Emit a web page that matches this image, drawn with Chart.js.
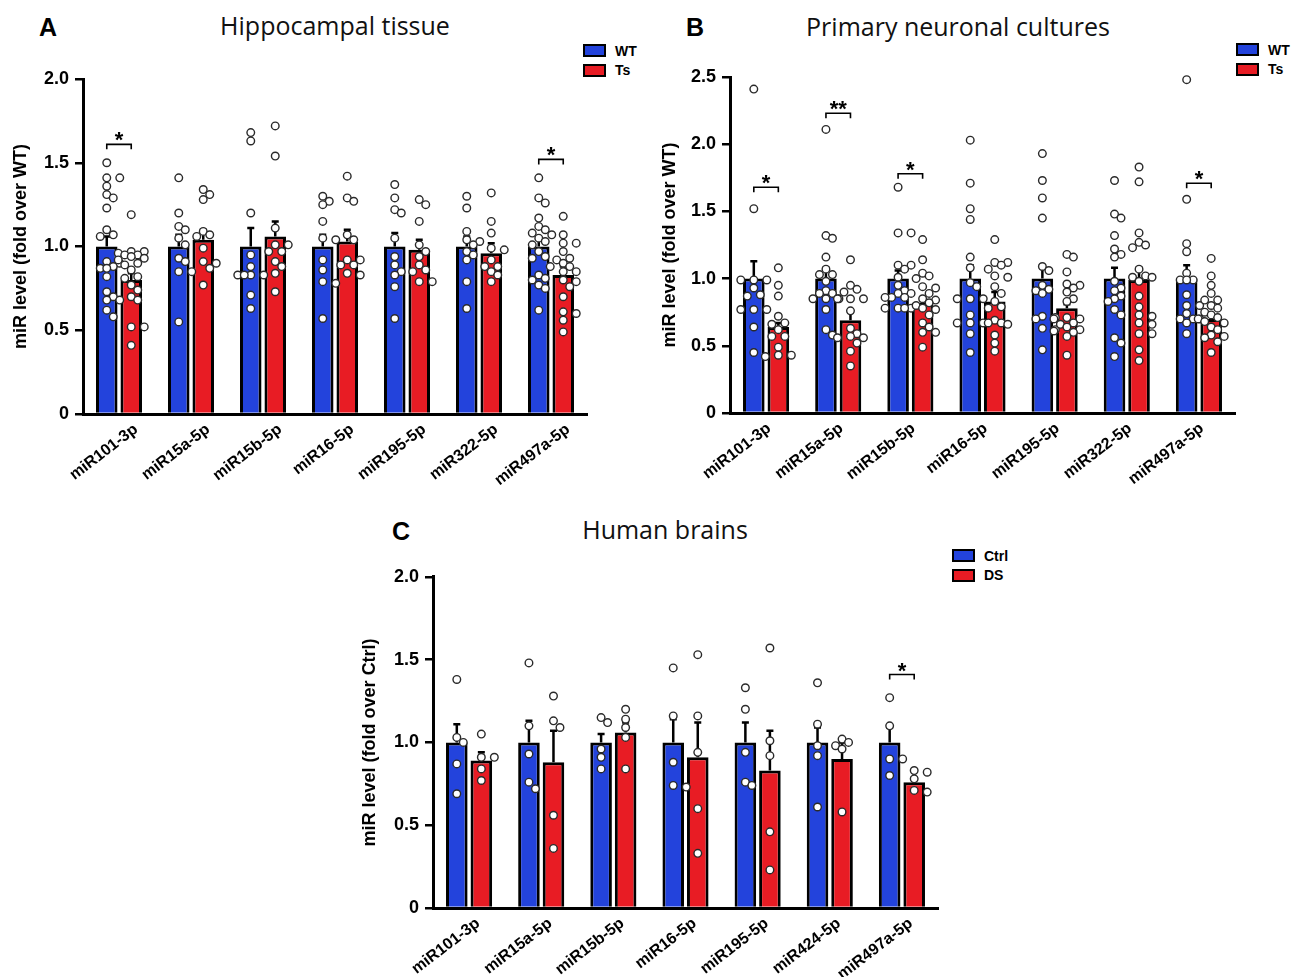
<!DOCTYPE html>
<html>
<head>
<meta charset="utf-8">
<script src="https://cdn.jsdelivr.net/npm/chart.js@4.4.0/dist/chart.umd.min.js"></script>
<style>
  body { margin: 0; background: #fff; width: 1298px; height: 977px; position: relative; overflow: hidden; font-family: 'Liberation Sans', Arial, sans-serif; }
  .panel-letter { position: absolute; font-weight: bold; font-size: 25px; line-height: 1; }
  .panel-title { position: absolute; font-family: 'Open Sans', sans-serif; font-size: 25px; line-height: 1; transform: translateX(-50%); white-space: nowrap; color: #111; }
  .legend { position: absolute; font-size: 14px; font-weight: bold; }
  .legend-row { display: flex; align-items: center; height: 19.5px; }
  .legend-box { width: 19px; height: 9px; border: 2px solid #000; margin-right: 9px; }
  .chart-box { position: absolute; }
</style>
</head>
<body>

<div class="panel-letter" style="left:39px; top:15px;">A</div>
<div class="panel-title" style="left:335px; top:13px;">Hippocampal tissue</div>
<div class="legend" style="left:583px; top:41px;">
  <div class="legend-row"><div class="legend-box" style="background:#2343dc"></div>WT</div>
  <div class="legend-row"><div class="legend-box" style="background:#e81c24"></div>Ts</div>
</div>
<div class="chart-box" style="left:0px; top:60px;"><canvas id="chart-a" width="610" height="440"></canvas></div>

<div class="panel-letter" style="left:686px; top:15px;">B</div>
<div class="panel-title" style="left:958px; top:14px;">Primary neuronal cultures</div>
<div class="legend" style="left:1236px; top:40px;">
  <div class="legend-row"><div class="legend-box" style="background:#2343dc"></div>WT</div>
  <div class="legend-row"><div class="legend-box" style="background:#e81c24"></div>Ts</div>
</div>
<div class="chart-box" style="left:640px; top:60px;"><canvas id="chart-b" width="620" height="440"></canvas></div>

<div class="panel-letter" style="left:392px; top:519px;">C</div>
<div class="panel-title" style="left:665px; top:517px;">Human brains</div>
<div class="legend" style="left:952px; top:546px;">
  <div class="legend-row"><div class="legend-box" style="background:#2343dc"></div>Ctrl</div>
  <div class="legend-row"><div class="legend-box" style="background:#e81c24"></div>DS</div>
</div>
<div class="chart-box" style="left:340px; top:560px;"><canvas id="chart-c" width="620" height="417"></canvas></div>

<script>
// ---- data ----
const mouseLabels = ['miR101-3p', 'miR15a-5p', 'miR15b-5p', 'miR16-5p', 'miR195-5p', 'miR322-5p', 'miR497a-5p'];
const humanLabels = ['miR101-3p', 'miR15a-5p', 'miR15b-5p', 'miR16-5p', 'miR195-5p', 'miR424-5p', 'miR497a-5p'];

// A: hippocampal tissue
const hippoWtMean = [1.0, 1.0, 1.0, 1.0, 1.0, 1.0, 1.0];
const hippoTsMean = [0.80, 1.04, 1.06, 1.03, 0.98, 0.96, 0.83];
const hippoWtSem = [0.06, 0.07, 0.11, 0.07, 0.08, 0.06, 0.05];
const hippoTsSem = [0.04, 0.06, 0.09, 0.07, 0.06, 0.06, 0.05];
const hippoWtPoints = [
  [1.50, 1.41, 1.41, 1.36, 1.31, 1.29, 1.23, 1.10, 1.07, 1.06, 0.91, 0.90, 0.88, 0.87, 0.87, 0.82, 0.73, 0.70, 0.68, 0.68, 0.62, 0.58],
  [1.41, 1.20, 1.12, 1.10, 1.05, 1.01, 0.93, 0.91, 0.85, 0.85, 0.55],
  [1.68, 1.63, 1.20, 0.95, 0.88, 0.83, 0.83, 0.83, 0.83, 0.71, 0.63],
  [1.30, 1.27, 1.25, 1.15, 1.05, 1.04, 0.92, 0.86, 0.79, 0.78, 0.57],
  [1.37, 1.29, 1.22, 1.20, 1.05, 0.94, 0.89, 0.85, 0.83, 0.76, 0.57],
  [1.30, 1.23, 1.09, 1.04, 1.03, 1.01, 0.97, 0.95, 0.92, 0.79, 0.63],
  [1.41, 1.29, 1.26, 1.17, 1.12, 1.10, 1.08, 1.07, 1.05, 1.03, 1.01, 0.97, 0.94, 0.93, 0.83, 0.81, 0.80, 0.77, 0.75, 0.62]
];
const hippoTsPoints = [
  [1.19, 0.97, 0.97, 0.96, 0.95, 0.95, 0.94, 0.93, 0.92, 0.90, 0.89, 0.86, 0.82, 0.81, 0.77, 0.74, 0.70, 0.68, 0.52, 0.52, 0.41],
  [1.34, 1.31, 1.28, 1.09, 1.07, 1.06, 0.99, 0.91, 0.90, 0.87, 0.77],
  [1.72, 1.54, 1.11, 1.01, 1.01, 0.97, 0.97, 0.91, 0.88, 0.84, 0.73],
  [1.42, 1.29, 1.27, 1.07, 1.04, 0.92, 0.92, 0.89, 0.89, 0.84, 0.83],
  [1.28, 1.25, 1.15, 1.01, 0.97, 0.94, 0.89, 0.86, 0.85, 0.79, 0.79],
  [1.32, 1.15, 1.08, 0.99, 0.98, 0.92, 0.88, 0.88, 0.85, 0.83, 0.79],
  [1.18, 1.07, 1.02, 1.02, 0.97, 0.93, 0.92, 0.90, 0.88, 0.88, 0.85, 0.85, 0.80, 0.79, 0.76, 0.70, 0.61, 0.60, 0.56, 0.49]
];
const hippoSig = [{ group: 0, y: 1.61, text: '*' }, { group: 6, y: 1.52, text: '*' }];

// B: primary neuronal cultures
const cultWtMean = [1.0, 1.0, 1.0, 1.0, 1.0, 1.0, 1.0];
const cultTsMean = [0.64, 0.69, 0.82, 0.83, 0.78, 0.99, 0.70];
const cultWtSem = [0.13, 0.08, 0.06, 0.10, 0.10, 0.08, 0.10];
const cultTsSem = [0.03, 0.06, 0.03, 0.07, 0.03, 0.09, 0.03];
const cultWtPoints = [
  [2.41, 1.52, 0.99, 0.99, 0.99, 0.93, 0.88, 0.87, 0.77, 0.77, 0.77, 0.64, 0.45],
  [2.11, 1.32, 1.30, 1.16, 1.07, 1.03, 1.03, 0.98, 0.91, 0.89, 0.89, 0.85, 0.85, 0.85, 0.77, 0.62, 0.58],
  [1.68, 1.34, 1.34, 1.10, 1.10, 1.07, 1.01, 0.95, 0.91, 0.89, 0.89, 0.86, 0.86, 0.86, 0.78, 0.78, 0.78, 0.78],
  [2.03, 1.71, 1.52, 1.44, 1.16, 1.08, 0.97, 0.94, 0.85, 0.85, 0.85, 0.73, 0.67, 0.67, 0.67, 0.59, 0.45],
  [1.93, 1.73, 1.60, 1.45, 1.09, 1.06, 0.95, 0.92, 0.91, 0.89, 0.72, 0.71, 0.70, 0.63, 0.62, 0.47],
  [1.73, 1.48, 1.45, 1.32, 1.22, 1.18, 1.16, 0.98, 0.93, 0.91, 0.87, 0.85, 0.83, 0.77, 0.73, 0.56, 0.52, 0.42],
  [2.48, 1.59, 1.26, 1.20, 1.04, 0.99, 0.99, 0.99, 0.88, 0.80, 0.80, 0.74, 0.70, 0.70, 0.70, 0.67, 0.59]
];
const cultTsPoints = [
  [1.08, 0.95, 0.87, 0.72, 0.67, 0.66, 0.62, 0.57, 0.57, 0.49, 0.43, 0.43, 0.42],
  [1.14, 0.95, 0.92, 0.90, 0.85, 0.85, 0.85, 0.76, 0.63, 0.59, 0.57, 0.56, 0.56, 0.52, 0.46, 0.35],
  [1.29, 1.14, 1.04, 1.02, 1.00, 0.94, 0.93, 0.89, 0.85, 0.84, 0.82, 0.80, 0.78, 0.77, 0.73, 0.67, 0.64, 0.60, 0.60, 0.49],
  [1.29, 1.12, 1.12, 1.10, 1.07, 1.02, 1.01, 0.94, 0.89, 0.83, 0.79, 0.78, 0.69, 0.67, 0.67, 0.66, 0.58, 0.52, 0.46],
  [1.18, 1.16, 1.05, 0.96, 0.95, 0.93, 0.90, 0.85, 0.83, 0.71, 0.70, 0.70, 0.67, 0.66, 0.64, 0.62, 0.61, 0.60, 0.57, 0.43],
  [1.83, 1.72, 1.34, 1.27, 1.25, 1.23, 1.07, 1.02, 1.01, 1.01, 0.98, 0.87, 0.79, 0.73, 0.72, 0.67, 0.66, 0.59, 0.59, 0.47, 0.39],
  [1.15, 1.02, 0.95, 0.89, 0.84, 0.84, 0.80, 0.78, 0.75, 0.73, 0.71, 0.70, 0.68, 0.67, 0.64, 0.62, 0.58, 0.57, 0.56, 0.53, 0.45]
];
const cultSig = [
  { group: 0, y: 1.68, text: '*' }, { group: 1, y: 2.23, text: '**' },
  { group: 2, y: 1.78, text: '*' }, { group: 6, y: 1.71, text: '*' }
];

// C: human brains
const humanCtrlMean = [1.0, 1.0, 1.0, 1.0, 1.0, 1.0, 1.0];
const humanDsMean = [0.89, 0.88, 1.06, 0.91, 0.83, 0.90, 0.76];
const humanCtrlSem = [0.11, 0.13, 0.05, 0.14, 0.12, 0.09, 0.09];
const humanDsSem = [0.05, 0.19, 0.06, 0.21, 0.24, 0.10, 0.03];
const humanCtrlPoints = [
  [1.38, 1.03, 1.00, 0.87, 0.69],
  [1.48, 1.10, 0.93, 0.76, 0.72],
  [1.15, 1.12, 0.96, 0.91, 0.84],
  [1.45, 1.16, 0.88, 0.74, 0.73],
  [1.33, 1.20, 0.94, 0.76, 0.74],
  [1.36, 1.11, 0.98, 0.92, 0.61],
  [1.27, 1.10, 0.90, 0.90, 0.80]
];
const humanDsPoints = [
  [1.05, 0.91, 0.91, 0.84, 0.77],
  [1.28, 1.13, 1.09, 0.56, 0.36],
  [1.20, 1.14, 1.09, 1.03, 0.84],
  [1.53, 1.16, 0.94, 0.60, 0.33],
  [1.57, 1.01, 0.92, 0.46, 0.23],
  [1.02, 1.00, 0.98, 0.96, 0.58],
  [0.83, 0.82, 0.78, 0.71, 0.70]
];
const humanSig = [{ group: 6, y: 1.41, text: '*' }];

const BLUE = '#2343dc';
const RED = '#e81c24';
const FONT = "'Liberation Sans', Arial, sans-serif";

// spread points sideways (max two steps each way), so they don't pile up
function swarm(values, cx, yScale, step, minDist) {
  const placed = [];
  const slots = [0, 1, -1, 2, -2];
  values.slice().sort((a, b) => b - a).forEach(v => {
    const y = yScale.getPixelForValue(v);
    let best = null, bestGap = -1;
    for (const s of slots) {
      const x = cx + s * step;
      const gap = placed.reduce((m, p) => Math.min(m, Math.hypot(p.x - x, p.y - y)), Infinity);
      if (gap >= minDist) { best = x; break; }
      if (gap > bestGap) { bestGap = gap; best = x; }
    }
    placed.push({ x: best, y });
  });
  return placed;
}

function makeOverlay(p) {
  return {
    id: 'overlay',
    afterDatasetsDraw(chart) {
      const ctx = chart.ctx;
      const yScale = chart.scales.y;
      const metas = [chart.getDatasetMeta(0), chart.getDatasetMeta(1)];
      ctx.save();

      // error bars (upper half only)
      [p.wtSem, p.tsSem].forEach((sem, ds) => {
        metas[ds].data.forEach((bar, i) => {
          const mean = chart.data.datasets[ds].data[i];
          const top = yScale.getPixelForValue(mean + sem[i]);
          ctx.strokeStyle = '#000';
          ctx.lineWidth = 2.5;
          ctx.beginPath();
          ctx.moveTo(bar.x, bar.y);
          ctx.lineTo(bar.x, top);
          ctx.moveTo(bar.x - 3.5, top);
          ctx.lineTo(bar.x + 3.5, top);
          ctx.stroke();
        });
      });

      // individual values
      [p.wtPoints, p.tsPoints].forEach((groups, ds) => {
        groups.forEach((vals, i) => {
          const bar = metas[ds].data[i];
          swarm(vals, bar.x, yScale, 6.5, 7).forEach(pt => {
            ctx.beginPath();
            ctx.arc(pt.x, pt.y, 3.8, 0, Math.PI * 2);
            ctx.fillStyle = '#fff';
            ctx.fill();
            ctx.lineWidth = 1.4;
            ctx.strokeStyle = '#2a2a2a';
            ctx.stroke();
          });
        });
      });

      // significance brackets
      p.sig.forEach(s => {
        const x1 = metas[0].data[s.group].x;
        const x2 = metas[1].data[s.group].x;
        const y = yScale.getPixelForValue(s.y);
        ctx.strokeStyle = '#000';
        ctx.lineWidth = 1.6;
        ctx.beginPath();
        ctx.moveTo(x1, y + 5);
        ctx.lineTo(x1, y);
        ctx.lineTo(x2, y);
        ctx.lineTo(x2, y + 5);
        ctx.stroke();
        ctx.fillStyle = '#000';
        ctx.font = 'bold 22px ' + FONT;
        ctx.textAlign = 'center';
        ctx.textBaseline = 'alphabetic';
        ctx.fillText(s.text, (x1 + x2) / 2, y + 3);
      });
      ctx.restore();
    }
  };
}

function makePanel(canvasId, p) {
  return new Chart(document.getElementById(canvasId), {
    type: 'bar',
    data: {
      labels: p.labels,
      datasets: [
        { label: p.names[0], data: p.wtMean, backgroundColor: BLUE, borderColor: '#000', borderWidth: 3 },
        { label: p.names[1], data: p.tsMean, backgroundColor: RED, borderColor: '#000', borderWidth: 3 }
      ]
    },
    options: {
      responsive: false,
      animation: false,
      categoryPercentage: 0.68,
      barPercentage: 0.88,
      layout: { padding: { top: p.padTop, right: p.padRight, left: 0, bottom: 0 } },
      plugins: { legend: { display: false }, tooltip: { enabled: false } },
      scales: {
        x: {
          grid: { display: false, drawTicks: false },
          border: { display: true, color: '#000', width: 3 },
          ticks: {
            color: '#000', autoSkip: false, maxRotation: 37.5, minRotation: 37.5,
            labelOffset: p.labelOffset, padding: 6,
            font: { family: FONT, size: 16, weight: 'bold' }
          },
          afterFit: s => { s.height = p.xHeight; }
        },
        y: {
          min: 0, max: p.max,
          ticks: {
            stepSize: 0.5, color: '#000', padding: 6,
            font: { family: FONT, size: 18, weight: 'bold' },
            callback: v => v === 0 ? '0' : v.toFixed(1)
          },
          grid: { drawOnChartArea: false, color: '#000', lineWidth: 2.5, tickLength: 8 },
          border: { color: '#000', width: 3 },
          title: {
            display: true, text: p.yTitle, color: '#000',
            font: { family: FONT, size: 18, weight: 'bold' },
            padding: { top: p.titlePad, bottom: 0 }
          },
          afterFit: s => { s.width = p.yWidth; }
        }
      }
    },
    plugins: [makeOverlay(p)]
  });
}

document.addEventListener('DOMContentLoaded', function() {
  makePanel('chart-a', {
    labels: mouseLabels, names: ['WT', 'Ts'], max: 2.0,
    wtMean: hippoWtMean, tsMean: hippoTsMean, wtSem: hippoWtSem, tsSem: hippoTsSem,
    wtPoints: hippoWtPoints, tsPoints: hippoTsPoints, sig: hippoSig,
    yTitle: 'miR level (fold over WT)',
    padTop: 19, padRight: 23, yWidth: 83, xHeight: 86, titlePad: 10, labelOffset: 17
  });

  makePanel('chart-b', {
    labels: mouseLabels, names: ['WT', 'Ts'], max: 2.5,
    wtMean: cultWtMean, tsMean: cultTsMean, wtSem: cultWtSem, tsSem: cultTsSem,
    wtPoints: cultWtPoints, tsPoints: cultTsPoints, sig: cultSig,
    yTitle: 'miR level (fold over WT)',
    padTop: 17, padRight: 25, yWidth: 90, xHeight: 87, titlePad: 19, labelOffset: 3
  });

  makePanel('chart-c', {
    labels: humanLabels, names: ['Ctrl', 'DS'], max: 2.0,
    wtMean: humanCtrlMean, tsMean: humanDsMean, wtSem: humanCtrlSem, tsSem: humanDsSem,
    wtPoints: humanCtrlPoints, tsPoints: humanDsPoints, sig: humanSig,
    yTitle: 'miR level (fold over Ctrl)',
    padTop: 13, padRight: 22, yWidth: 93, xHeight: 69, titlePad: 19, labelOffset: 9
  });
});
</script>
</body>
</html>
